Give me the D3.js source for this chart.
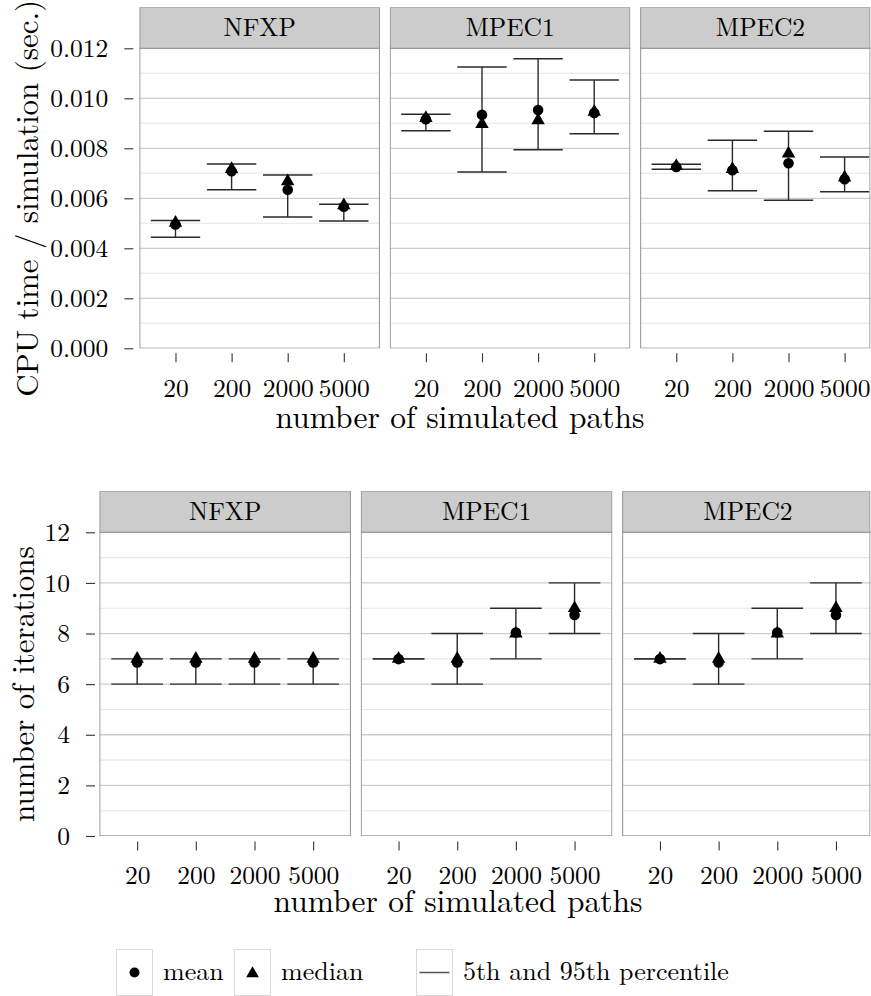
<!DOCTYPE html>
<html>
<head>
<meta charset="utf-8">
<script src="https://cdn.jsdelivr.net/npm/d3@7"></script>
<style>
  html, body { margin: 0; padding: 0; background: #fff; }
  svg { display: block; }
</style>
</head>
<body>
<svg id="chart" width="871" height="996"></svg>
<script>
// ---------------- DATA ----------------
const categories = ["20", "200", "2000", "5000"];
const methods = ["NFXP", "MPEC1", "MPEC2"];

// CPU time / simulation (sec.), rows = methods, columns = categories
const cpuMean   = [[0.00495, 0.00708, 0.00634, 0.00566],
                   [0.00916, 0.00934, 0.00953, 0.00941],
                   [0.00725, 0.00712, 0.00740, 0.00676]];
const cpuMedian = [[0.00502, 0.00717, 0.00668, 0.00572],
                   [0.00921, 0.00897, 0.00912, 0.00946],
                   [0.00729, 0.00717, 0.00779, 0.00683]];
const cpuP5     = [[0.00444, 0.00634, 0.00525, 0.00509],
                   [0.00870, 0.00705, 0.00794, 0.00858],
                   [0.00716, 0.00630, 0.00592, 0.00626]];
const cpuP95    = [[0.00511, 0.00737, 0.00693, 0.00576],
                   [0.00936, 0.01125, 0.01158, 0.01073],
                   [0.00736, 0.00832, 0.00868, 0.00765]];

// number of iterations
const iterMean   = [[6.86, 6.86, 6.86, 6.86],
                    [6.99, 6.86, 8.04, 8.73],
                    [6.99, 6.86, 8.04, 8.73]];
const iterMedian = [[7, 7, 7, 7],
                    [7, 7, 8, 9],
                    [7, 7, 8, 9]];
const iterP5     = [[6, 6, 6, 6],
                    [7, 6, 7, 8],
                    [7, 6, 7, 8]];
const iterP95    = [[7, 7, 7, 7],
                    [7, 8, 9, 10],
                    [7, 8, 9, 10]];

const cpuMajorTicks = [0, 0.002, 0.004, 0.006, 0.008, 0.010, 0.012];
const cpuMinorTicks = [0.001, 0.003, 0.005, 0.007, 0.009, 0.011];
const iterMajorTicks = [0, 2, 4, 6, 8, 10, 12];
const iterMinorTicks = [1, 3, 5, 7, 9, 11];

const legendLabels = ["mean", "median", "5th and 95th percentile"];

// ---------------- DRAWING ----------------
const FONT = '"Latin Modern Roman", "Liberation Serif", "DejaVu Serif", serif';
const svg = d3.select("#chart");
const RIGHT_EDGE = 870.5;
const TICK_FS = 25.5;

function styleText(sel, size) {
  return sel.style("font-family", FONT).style("font-size", size + "px").style("fill", "#000");
}

function trianglePath(cx, cy, u) {
  // R pch 17 geometry: circumcentre at (cx, cy)
  const r = 1.5551 * u, xc = 1.3468 * u, yc = 0.7776 * u;
  return `M${cx},${cy - r}L${cx + xc},${cy + yc}L${cx - xc},${cy + yc}Z`;
}

function drawRow(cfg) {
  const g = svg.append("g");
  const y = d3.scaleLinear().domain(cfg.yDomain).range([cfg.panelBottom, cfg.panelTop]);

  methods.forEach((m, i) => {
    const left = cfg.left0 + i * (cfg.panelW + cfg.gap);
    const visW = Math.min(cfg.panelW, RIGHT_EDGE - left);
    const x = d3.scalePoint().domain(categories)
      .range([left, left + cfg.panelW]).padding(0.645);
    const capHalf = x.step() * 0.44;

    const clipId = `clip-${cfg.id}-${i}`;
    g.append("clipPath").attr("id", clipId)
      .append("rect").attr("x", left).attr("y", cfg.stripTop)
      .attr("width", visW).attr("height", cfg.panelBottom - cfg.stripTop);

    const pg = g.append("g").attr("clip-path", `url(#${clipId})`);

    pg.append("rect").attr("x", left).attr("y", cfg.panelTop)
      .attr("width", visW).attr("height", cfg.panelBottom - cfg.panelTop)
      .attr("fill", "#fff");

    // grid
    pg.selectAll(".minor").data(cfg.minor).join("line")
      .attr("x1", left).attr("x2", left + cfg.panelW)
      .attr("y1", d => y(d)).attr("y2", d => y(d))
      .attr("stroke", "#e6e6e6").attr("stroke-width", 1.1);
    pg.selectAll(".major").data(cfg.major).join("line")
      .attr("x1", left).attr("x2", left + cfg.panelW)
      .attr("y1", d => y(d)).attr("y2", d => y(d))
      .attr("stroke", "#cdcdcd").attr("stroke-width", 1.3);

    const rows = categories.map((c, j) => ({
      c, mean: cfg.mean[i][j], median: cfg.median[i][j],
      lo: cfg.p5[i][j], hi: cfg.p95[i][j]
    }));

    // error bars
    const eb = pg.append("g").attr("stroke", "#2a2a2a").attr("stroke-width", 1.4).attr("fill", "none");
    rows.forEach(d => {
      const cx = x(d.c);
      eb.append("line").attr("x1", cx).attr("x2", cx).attr("y1", y(d.lo)).attr("y2", y(d.hi));
      eb.append("line").attr("x1", cx - capHalf).attr("x2", cx + capHalf).attr("y1", y(d.lo)).attr("y2", y(d.lo));
      eb.append("line").attr("x1", cx - capHalf).attr("x2", cx + capHalf).attr("y1", y(d.hi)).attr("y2", y(d.hi));
    });

    pg.selectAll(".mean").data(rows).join("circle")
      .attr("cx", d => x(d.c)).attr("cy", d => y(d.mean)).attr("r", 5.3)
      .attr("fill", "#000");
    pg.selectAll(".median").data(rows).join("path")
      .attr("d", d => trianglePath(x(d.c), y(d.median), 5))
      .attr("fill", "#000");

    // panel border
    pg.append("rect").attr("x", left + 0.5).attr("y", cfg.panelTop)
      .attr("width", visW - 1).attr("height", cfg.panelBottom - cfg.panelTop)
      .attr("fill", "none").attr("stroke", "#9a9a9a").attr("stroke-width", 1.2);

    // strip
    pg.append("rect").attr("x", left + 0.5).attr("y", cfg.stripTop)
      .attr("width", visW - 1).attr("height", cfg.panelTop - cfg.stripTop)
      .attr("fill", "#cccccc").attr("stroke", "#9a9a9a").attr("stroke-width", 1.2);
    styleText(g.append("text")
      .attr("x", left + cfg.panelW / 2).attr("y", (cfg.stripTop + cfg.panelTop) / 2)
      .attr("dy", "0.34em").attr("text-anchor", "middle"), 25.5).text(m);

    // x axis
    const xa = g.append("g").attr("transform", `translate(0,${cfg.xAxisY})`)
      .call(d3.axisBottom(x).tickSizeInner(9).tickSizeOuter(0));
    xa.select(".domain").remove();
    xa.selectAll(".tick line").attr("stroke", "#333").attr("stroke-width", 1.1);
    styleText(xa.selectAll(".tick text").attr("y", cfg.xLabelBaseline - cfg.xAxisY).attr("dy", 0), TICK_FS);
  });

  // y axis
  const ya = g.append("g").attr("transform", `translate(${cfg.yAxisX},0)`)
    .call(d3.axisLeft(y).tickValues(cfg.major).tickFormat(cfg.fmt)
      .tickSizeInner(9).tickSizeOuter(0).tickPadding(16));
  ya.select(".domain").remove();
  ya.selectAll(".tick line").attr("stroke", "#333").attr("stroke-width", 1.1);
  styleText(ya.selectAll(".tick text"), TICK_FS);

  // y title
  const cy = (cfg.panelTop + cfg.panelBottom) / 2;
  styleText(g.append("text")
    .attr("transform", `translate(${cfg.yTitleX},${cy}) rotate(-90)`)
    .attr("text-anchor", "middle"), 31)
    .text(cfg.yTitle);

  // x title
  styleText(g.append("text")
    .attr("x", cfg.xTitleX).attr("y", cfg.xTitleY)
    .attr("text-anchor", "middle"), 31.5)
    .text("number of simulated paths");
}

drawRow({
  id: "cpu",
  stripTop: 7.3, panelTop: 48.3, panelBottom: 348.3,
  left0: 139.3, panelW: 240.7, gap: 9.7,
  yDomain: [0, 0.012], major: cpuMajorTicks, minor: cpuMinorTicks,
  fmt: d3.format(".3f"),
  mean: cpuMean, median: cpuMedian, p5: cpuP5, p95: cpuP95,
  yAxisX: 133.3, xAxisY: 353.3, xLabelBaseline: 397.5,
  yTitle: "CPU time / simulation (sec.)", yTitleX: 38,
  xTitleX: 460, xTitleY: 428
});

drawRow({
  id: "iter",
  stripTop: 491, panelTop: 532.3, panelBottom: 836,
  left0: 99.3, panelW: 251.7, gap: 9.7,
  yDomain: [0, 12], major: iterMajorTicks, minor: iterMinorTicks,
  fmt: d3.format("d"),
  mean: iterMean, median: iterMedian, p5: iterP5, p95: iterP95,
  yAxisX: 95, xAxisY: 841.5, xLabelBaseline: 884,
  yTitle: "number of iterations", yTitleX: 34,
  xTitleX: 458, xTitleY: 912
});

// ---------------- LEGEND ----------------
const legend = svg.append("g");
const boxX = [116, 234, 416];
const boxY = 949.5, boxW = 36, boxH = 46;
const textGap = 11;
legendLabels.forEach((lab, i) => {
  legend.append("rect").attr("x", boxX[i] + 0.5).attr("y", boxY)
    .attr("width", boxW).attr("height", boxH)
    .attr("fill", "#fff").attr("stroke", "#d9d9d9").attr("stroke-width", 1);
  const cx = boxX[i] + boxW / 2 + 0.5, cy = boxY + boxH / 2;
  if (i === 0) {
    legend.append("circle").attr("cx", cx).attr("cy", cy).attr("r", 5).attr("fill", "#000");
  } else if (i === 1) {
    legend.append("path").attr("d", trianglePath(cx, cy + 1, 4.7)).attr("fill", "#000");
  } else {
    legend.append("line").attr("x1", cx - 15).attr("x2", cx + 15)
      .attr("y1", cy).attr("y2", cy).attr("stroke", "#555").attr("stroke-width", 1.5);
  }
  styleText(legend.append("text").attr("x", boxX[i] + boxW + textGap).attr("y", cy).attr("dy", "0.3em"), 26)
    .text(lab);
});
</script>
</body>
</html>
